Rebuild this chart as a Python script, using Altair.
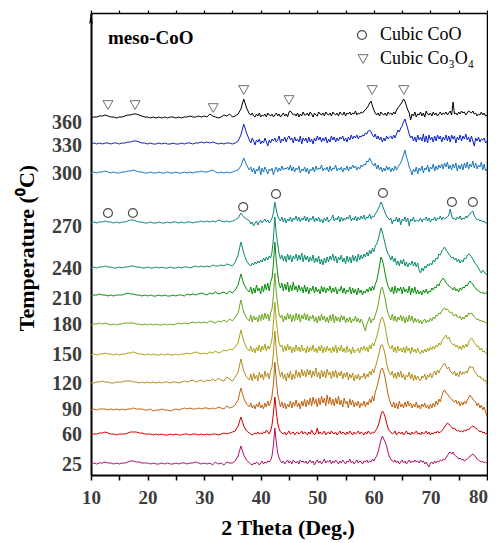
import altair as alt
import pandas as pd

# sampling grid of the diffractograms (2 theta, degrees):
# 0.5 deg steps up to 37.5, then 0.25 deg steps from 38 to 80
two_theta = [10 + 0.5 * i for i in range(56)] + [38 + 0.25 * i for i in range(169)]

temps = ["360", "330", "300", "270", "240", "210", "180", "150", "120", "90", "60", "25"]
baselines = [357, 331, 302, 252, 207, 179, 150, 120, 92, 65, 40, 11]
label_pos = [352, 329, 301, 248, 206, 176, 150, 120, 91, 65, 40, 10]
colors = ["#000000", "#0a1fc4", "#1877b8", "#0b8686", "#0a8a6e", "#0a8c0a",
          "#6aa61a", "#a8a414", "#b48c1c", "#c0620e", "#d40000", "#b0106a"]

# intensity above each curve's baseline
i360 = [0,1,1,2,2,3,2,1,1,0, 1,1,2,3,3,4,4,3,2,1,
        1,0,1,0,1,0,1,0,1,1, 0,1,0,1,1,2,1,1,2,1,
        2,1,4,2,1,0,1,3,2,4, 1,2,4,9,19,10,
        4,3,5,2,1,4,2,5,1,3, 2,4,1,5,3,2,4,1,3,5,
        2,4,1,3,5,2,4,1,6,7, 5,3,4,2,5,1,4,2,6,3,
        3,5,2,6,4,1,5,3,2,6, 4,3,5,2,6,4,3,5,2,6,
        4,3,5,2,6,4,3,6,2,5, 4,6,3,5,4,7,3,5,4,6,
        5,7,8,10,12,15,17,12,8,5, 3,5,2,6,4,3,5,2,6,4,
        5,3,6,4,8,10,12,14,16,19, 17,12,8,5,-2,4,2,6,1,4,
        3,6,2,5,1,7,4,3,5,2, 6,3,5,2,4,6,3,5,4,6,
        3,5,7,3,16,4,5,3,6,4, 7,5,6,3,5,7,6,5,7,4,
        5,2,4,3,6,3,5,2,3]
i330 = [0,1,0,1,0,1,1,0,1,1, 0,1,1,2,2,3,3,2,1,1,
        0,1,0,0,1,0,1,0,0,1, 0,0,1,0,1,1,0,1,1,2,
        1,2,1,2,1,0,1,0,1,1, 0,1,3,9,20,11,
        4,1,6,3,-1,4,2,5,0,3, 1,6,2,-2,4,1,5,3,6,2,
        4,8,1,5,3,7,2,6,8,4, 6,1,7,3,5,2,8,0,6,3,
        6,1,7,2,5,0,6,3,8,4, 7,2,6,3,7,1,5,2,8,4,
        7,2,6,3,7,5,8,3,6,2, 7,4,9,5,8,6,9,5,8,7,
        9,8,11,10,13,14,12,9,7,10, 5,8,4,7,2,6,3,8,5,7,
        8,5,9,6,10,14,12,16,18,22, 25,20,15,10,6,8,3,7,2,9,
        4,7,3,10,2,8,1,9,4,7, 2,8,3,9,5,8,2,7,4,9,
        3,8,2,9,5,8,1,7,4,9, 3,8,5,10,4,7,2,8,3,-2,
        6,3,7,2,5,4,6,1,3]
i300 = [0,1,0,1,1,2,1,0,1,0, 0,1,1,2,2,3,2,1,1,0,
        0,1,0,0,1,0,0,1,0,0, 1,0,0,1,0,1,0,1,1,2,
        1,1,2,3,1,0,1,0,1,0, 1,2,3,7,15,8,
        3,6,1,5,-1,4,2,7,-2,5, 1,6,3,-1,4,2,5,-2,3,6,
        1,5,2,7,3,5,4,6,3,8, 2,6,1,5,3,7,0,4,2,6,
        1,5,-1,4,2,6,1,7,3,5, 4,8,2,5,3,6,1,7,2,5,
        4,8,2,5,3,6,1,5,3,7, 2,6,4,8,5,7,3,6,4,8,
        6,9,8,12,11,15,12,9,7,10, 4,8,3,6,1,5,2,7,3,6,
        1,5,2,7,3,6,8,10,14,18, 23,16,12,6,3,-2,4,1,6,-1,
        5,2,7,0,5,3,8,1,6,4, 9,2,7,3,8,5,9,4,10,6,
        11,4,8,3,9,5,10,2,8,4, 9,3,10,5,11,4,9,6,12,5,
        10,4,8,6,11,3,9,2,4]
i270 = [0,1,0,1,1,2,1,1,0,1, 0,1,1,2,3,3,2,1,1,0,
        0,1,0,0,1,0,0,1,0,1, 1,0,1,0,1,1,0,1,1,2,
        1,2,1,2,1,3,2,1,2,1, 2,3,5,10,6,4,
        2,-1,1,-3,0,2,-2,1,3,0, 2,4,1,3,0,2,5,10,21,13,
        7,4,2,6,1,5,0,4,2,6, 1,5,3,7,2,6,1,5,3,7,
        2,6,1,5,3,7,1,5,2,6, 1,4,0,5,2,6,1,3,4,8,
        2,5,3,7,1,6,2,5,3,6, 4,8,2,5,3,7,2,6,3,7,
        4,8,3,6,5,9,4,7,6,9, 11,14,17,21,18,14,10,7,5,3,
        5,-1,3,2,6,1,5,-2,4,2, 6,1,5,-3,4,2,6,1,3,2,
        2,5,1,4,3,6,2,5,1,4, 3,6,2,5,4,7,3,6,4,5,
        6,8,14,7,4,5,3,6,4,7, 3,5,4,7,5,8,9,11,12,7,
        5,3,4,2,3,1,2,0,0]
i240 = [0,1,0,1,1,2,1,1,0,0, 1,0,1,1,2,2,1,1,0,0,
        1,0,0,1,0,1,0,0,1,0, 0,1,0,1,1,0,1,2,1,2,
        1,2,1,3,2,2,3,2,4,3, 2,6,13,26,15,7,
        3,2,5,3,6,4,7,5,8,6, 10,7,11,8,12,10,16,30,51,34,
        24,14,9,13,7,12,6,14,8,13, 6,12,9,14,7,13,8,15,6,13,
        8,12,6,11,7,13,5,10,6,12, 4,9,3,10,5,11,6,12,8,14,
        7,12,5,11,8,13,6,10,4,12, 6,11,5,13,7,12,6,14,8,13,
        9,14,11,16,12,18,14,20,16,22, 24,28,34,40,36,30,24,18,14,12,
        8,12,6,10,3,7,2,8,4,9, 2,6,1,5,3,7,2,6,1,5,
        -2,-5,0,-3,2,0,4,2,5,3, 8,6,10,9,14,13,17,19,21,18,
        16,14,12,10,11,8,10,6,9,5, 8,6,10,9,12,14,13,11,9,6,
        4,2,0,-3,-5,-2,-4,-6,-6]
i210 = [0,1,1,2,1,1,0,1,0,1, 1,1,2,3,2,2,1,1,0,1,
        0,1,0,0,1,0,1,0,0,1, 0,1,1,0,2,1,2,1,2,3,
        2,1,3,2,4,2,3,4,2,5, 3,6,11,22,12,7,
        4,9,2,8,3,11,5,8,2,10, 4,12,6,13,5,14,18,32,54,35,
        22,12,8,13,5,12,6,14,4,11, 5,14,6,10,4,11,5,9,3,11,
        4,9,2,8,5,10,3,9,4,7, 2,10,4,9,3,8,5,10,3,8,
        4,9,2,7,5,10,3,8,2,6, 4,9,2,8,3,7,1,8,3,6,
        1,5,3,7,4,9,5,10,6,12, 15,22,30,39,36,30,22,15,10,7,
        4,9,2,10,3,8,5,9,2,9, 4,7,3,10,1,8,3,9,2,6,
        2,5,1,6,3,7,2,5,4,8, 6,9,8,12,10,14,16,18,16,13,
        12,10,9,8,6,9,5,7,4,8, 6,9,8,11,10,13,15,13,12,9,
        8,6,5,4,3,4,2,3,3]
i180 = [0,1,1,2,1,2,1,0,1,0, 1,1,2,2,2,2,1,1,0,1,
        0,1,0,1,0,0,1,0,1,0, 1,2,1,2,1,2,3,2,3,2,
        3,2,4,3,2,4,3,5,3,6, 4,8,12,25,13,7,
        4,10,3,9,5,8,3,10,4,11, 5,12,6,11,4,12,16,30,52,33,
        20,11,7,10,3,9,5,12,6,11, 3,10,4,12,5,11,3,10,6,12,
        5,11,4,9,6,10,3,8,2,9, 4,11,5,9,3,8,2,10,4,11,
        2,9,4,8,3,10,5,9,2,7, 3,8,2,6,4,9,3,7,2,6,
        3,-2,-6,1,4,8,2,6,5,10, 14,20,28,36,38,32,26,18,12,8,
        5,11,4,9,3,8,5,10,4,9, 2,8,3,10,4,9,2,7,3,6,
        2,5,1,4,6,2,5,3,7,4, 8,6,10,9,12,11,14,16,17,15,
        16,14,12,13,10,9,11,8,7,9, 5,8,6,10,8,12,11,12,10,8,
        7,5,6,4,5,3,4,2,2]
i150 = [0,1,0,1,1,2,1,1,0,1, 0,1,1,2,2,3,2,1,1,0,
        1,0,1,0,0,1,0,1,0,0, 1,0,1,1,2,1,2,3,2,1,
        2,1,3,2,4,2,3,5,4,6, 5,8,12,25,14,7,
        4,9,3,7,2,8,4,10,3,9, 5,11,4,9,6,10,16,32,53,34,
        22,12,8,10,3,9,4,11,5,9, 2,8,3,10,4,8,3,10,4,7,
        2,9,3,8,4,10,3,7,2,9, 4,10,2,8,3,9,4,7,2,8,
        3,10,2,8,4,10,3,7,2,9, 3,6,1,8,2,5,4,7,2,8,
        5,9,4,8,3,10,6,12,9,14, 18,24,30,36,38,34,28,20,12,8,
        6,10,3,8,2,9,4,7,3,8, 2,9,4,7,1,8,3,6,2,7,
        3,1,5,2,6,3,7,4,8,5, 9,6,10,8,12,10,14,16,18,20,
        16,18,14,12,10,11,8,10,6,9, 5,10,7,11,8,13,15,17,15,12,
        11,8,9,5,7,3,4,2,1]
i120 = [0,0,1,1,2,1,1,0,0,1, 1,1,2,2,2,1,1,0,1,0,
        1,0,1,0,1,0,1,1,0,1, 1,0,1,2,1,2,3,1,2,3,
        1,3,2,4,2,5,3,2,6,4, 2,6,11,24,12,6,
        3,9,2,10,4,8,2,11,5,9, 3,12,6,10,4,12,16,30,52,34,
        20,12,6,11,4,9,2,10,5,12, 3,9,4,13,6,11,5,14,7,12,
        6,14,8,13,5,12,7,15,6,11, 4,13,6,12,5,14,8,11,4,12,
        6,13,5,11,7,12,4,10,6,11, 3,9,5,10,2,8,4,9,3,7,
        5,10,4,9,6,12,8,14,10,16, 20,26,32,38,38,34,28,20,14,10,
        8,12,5,10,4,11,6,12,5,9, 3,8,6,11,4,9,2,8,3,7,
        4,2,7,5,9,3,8,6,10,5, 9,12,8,13,10,14,16,18,20,17,
        14,16,12,10,9,12,7,10,6,12, 8,11,9,12,10,14,17,15,16,12,
        10,8,6,7,4,5,2,3,-2]
i90 = [0,1,0,1,1,1,0,1,0,1, 0,1,0,1,1,2,1,1,1,0,
       0,1,-1,0,0,1,0,0,-1,0, 1,0,1,2,1,2,1,1,2,1,
       2,2,1,2,1,3,2,1,4,2, 3,5,10,22,12,6,
       3,7,2,5,1,6,3,8,2,5, 1,7,3,9,4,8,14,26,48,30,
       16,9,3,8,2,7,1,6,3,9, 2,8,4,10,3,7,1,9,4,11,
       3,10,5,12,4,13,6,11,3,12, 5,14,7,12,4,15,6,13,5,11,
       4,12,6,14,5,10,3,12,6,9, 2,11,5,10,3,8,4,9,2,7,
       4,9,3,8,5,11,7,14,9,18, 22,28,34,40,42,38,32,24,16,10,
       6,3,8,2,7,1,9,3,6,2, 8,3,9,4,7,2,6,3,8,2,
       5,1,6,3,7,2,5,1,6,2, 7,3,9,5,11,8,14,18,20,17,
       16,14,12,11,9,8,10,6,9,4, 8,5,9,6,10,12,15,13,11,9,
       8,4,7,2,5,0,3,-2,-6]
i60 = [0,1,1,2,2,3,2,1,1,0, 1,1,1,2,3,3,3,2,2,1,
       1,1,0,1,0,1,0,0,1,0, 1,0,0,1,1,0,1,1,0,1,
       0,1,0,1,1,0,1,2,1,2, 3,4,9,18,9,4,
       2,1,0,1,2,1,3,1,2,1, 3,2,5,3,1,4,10,22,38,24,
       12,6,3,2,1,3,0,2,4,1, 2,3,0,2,3,1,2,4,1,3,
       2,0,3,1,5,2,0,2,7,1, 3,1,2,4,0,2,3,1,4,2,
       1,3,0,2,4,1,3,2,0,3, 1,4,2,0,3,1,2,4,1,3,
       2,0,3,1,4,2,1,3,2,4, 6,9,14,20,24,22,18,12,7,4,
       3,1,2,4,0,2,3,1,3,0, 2,4,1,2,0,3,1,2,4,1,
       2,0,3,1,2,4,1,3,0,2, 1,3,2,4,2,3,4,6,8,10,
       12,11,9,8,6,7,5,4,5,3, 4,3,5,4,6,5,7,8,9,8,
       7,6,5,3,4,2,3,1,2]
i25 = [0,1,0,1,1,2,1,1,0,1, 0,1,1,2,3,3,2,2,1,1,
       1,0,1,0,0,1,0,1,0,0, 1,0,1,1,0,1,1,2,1,0,
       1,0,1,-1,2,0,1,-1,2,1, 1,3,8,18,9,4,
       1,0,-1,1,0,2,1,-1,1,3, 0,2,1,3,2,4,8,19,36,22,
       11,6,3,1,3,0,2,4,1,3, 0,4,2,1,3,0,4,2,3,1,
       3,0,2,4,1,3,-1,2,4,1, 3,0,2,5,1,3,2,4,0,3,
       1,4,2,0,3,1,4,2,0,3, 2,5,1,3,0,2,4,1,3,2,
       0,3,2,4,1,3,2,5,3,6, 8,12,18,24,28,25,22,18,12,7,
       5,3,2,4,1,3,0,2,4,1, 3,0,2,4,1,3,2,4,2,3,
       1,4,2,3,0,2,-1,-3,1,2, 0,3,1,3,2,4,3,5,4,6,
       8,11,12,10,12,9,8,7,5,6, 4,5,3,4,5,6,8,9,10,9,
       7,5,4,3,2,3,1,2,1]
profiles = [i360, i330, i300, i270, i240, i210, i180, i150, i120, i90, i60, i25]

# phase markers
coo_x = [13.0, 17.4, 36.9, 42.7, 61.6, 73.8, 77.5]
coo_y = [262, 262, 268, 281, 282, 273, 273]
co3o4_x = [13.0, 17.8, 31.6, 37.0, 45.0, 59.7, 65.3]
co3o4_y = [370, 370, 367, 385, 375, 385, 385]

x_ticks = [10, 15, 20, 25, 30, 35, 40, 45, 50, 55, 60, 65, 70, 75, 80]
right_ticks = [0, 41.5, 83, 124.5, 166, 207.5, 249, 290.5, 332, 373.5, 415]

legend_labels = ["Cubic CoO", "Cubic Co\u2083O\u2084"]
legend_x = [57.9, 58.1]
legend_y = [440, 416]
legend_text_x = [61.1, 61.1]

rows = []
for t, b, prof in zip(temps, baselines, profiles):
    n = min(len(prof), len(two_theta))
    for x, v in zip(two_theta[:n], prof[:n]):
        rows.append({"t": t, "x": x, "y": b + v})
curve_df = pd.DataFrame(rows)

xs = alt.Scale(domain=[10, 80], nice=False, zero=False)
ys = alt.Scale(domain=[0, 462], nice=False, zero=False)
SERIF = "Liberation Serif"

lines = alt.Chart(curve_df).mark_line(strokeWidth=1.0).encode(
    x=alt.X("x:Q", scale=xs, axis=alt.Axis(
        orient="bottom", values=x_ticks,
        labelExpr="(datum.value % 10 === 0 && datum.value < 80) ? datum.label : ''",
        tickSize=5, tickWidth=1.5, tickColor="black",
        domainColor="black", domainWidth=2, grid=False, title=None,
        labelFont=SERIF, labelFontSize=19, labelFontWeight="bold",
        labelColor="#3c3c3c", labelPadding=8, labelFlush=False)),
    y=alt.Y("y:Q", scale=ys, axis=alt.Axis(
        orient="left", ticks=False, labels=False, domainColor="black",
        domainWidth=2, grid=False, title=None)),
    color=alt.Color("t:N", scale=alt.Scale(domain=temps, range=colors), legend=None),
)

# last x tick label, kept inside the page edge
last_df = pd.DataFrame({"x": [80], "s": ["80"]})
last_label = alt.Chart(last_df).mark_text(
    align="right", baseline="top", dx=1, font=SERIF, fontSize=19,
    fontWeight="bold", color="#3c3c3c"
).encode(x=alt.X("x:Q", scale=xs, axis=None), y=alt.value(475), text="s:N")

coo_df = pd.DataFrame({"x": coo_x, "y": coo_y})
circles = alt.Chart(coo_df).mark_point(
    shape="circle", filled=False, color="black", size=80, strokeWidth=1.2
).encode(
    x=alt.X("x:Q", scale=xs, axis=alt.Axis(
        orient="top", values=x_ticks, labels=False, tickSize=3, tickWidth=1.2,
        tickColor="black", domainColor="black", domainWidth=1.5, grid=False, title=None)),
    y=alt.Y("y:Q", scale=ys, axis=alt.Axis(
        orient="right", values=right_ticks, labels=False, tickSize=3, tickWidth=1.2,
        tickColor="black", domainColor="black", domainWidth=1.5, grid=False, title=None)),
)

co3o4_df = pd.DataFrame({"x": co3o4_x, "y": co3o4_y})
triangles = alt.Chart(co3o4_df).mark_point(
    shape="triangle-down", filled=False, color="#333333", size=100, strokeWidth=1
).encode(
    x=alt.X("x:Q", scale=xs, axis=None),
    y=alt.Y("y:Q", scale=ys, axis=None),
)

lab_df = pd.DataFrame({"t": temps, "y": label_pos})
temp_labels = alt.Chart(lab_df).mark_text(
    align="right", baseline="middle", font=SERIF, fontSize=20,
    fontWeight="bold", color="#3c3c3c"
).encode(
    x=alt.value(-9),
    y=alt.Y("y:Q", scale=ys, axis=None),
    text="t:N",
)

title_df = pd.DataFrame({"x": [13.0], "y": [437], "s": ["meso-CoO"]})
title = alt.Chart(title_df).mark_text(
    align="left", baseline="middle", font=SERIF, fontSize=19,
    fontWeight="bold", color="black"
).encode(
    x=alt.X("x:Q", scale=xs, axis=None),
    y=alt.Y("y:Q", scale=ys, axis=None),
    text="s:N",
)

leg_sym_df = pd.DataFrame({"x": legend_x[:1], "y": legend_y[:1]})
leg_circle = alt.Chart(leg_sym_df).mark_point(
    shape="circle", filled=False, color="black", size=80, strokeWidth=1.2
).encode(x=alt.X("x:Q", scale=xs, axis=None), y=alt.Y("y:Q", scale=ys, axis=None))

leg_tri_df = pd.DataFrame({"x": legend_x[1:], "y": legend_y[1:]})
leg_tri = alt.Chart(leg_tri_df).mark_point(
    shape="triangle-down", filled=False, color="#333333", size=100, strokeWidth=1
).encode(x=alt.X("x:Q", scale=xs, axis=None), y=alt.Y("y:Q", scale=ys, axis=None))

leg_txt_df = pd.DataFrame({"x": legend_text_x, "y": legend_y, "s": legend_labels})
leg_text = alt.Chart(leg_txt_df).mark_text(
    align="left", baseline="middle", font=SERIF, fontSize=18, color="black"
).encode(
    x=alt.X("x:Q", scale=xs, axis=None),
    y=alt.Y("y:Q", scale=ys, axis=None),
    text="s:N",
)

arrow_df = pd.DataFrame({"x": [10], "y": [457]})
arrow = alt.Chart(arrow_df).mark_point(
    shape="M0,-1L0.3,1L0,0.7L-0.3,1Z", filled=True, color="black",
    size=144, opacity=1
).encode(x=alt.X("x:Q", scale=xs, axis=None), y=alt.Y("y:Q", scale=ys, axis=None))

xt_df = pd.DataFrame({"s": ["2 Theta (Deg.)"]})
x_title = alt.Chart(xt_df).mark_text(
    align="center", baseline="alphabetic", font=SERIF, fontSize=22,
    fontWeight="bold", color="black"
).encode(x=alt.value(197), y=alt.value(522), text="s:N")

yt_df = pd.DataFrame({"s": ["Temperature (\u2070C)"]})
y_title = alt.Chart(yt_df).mark_text(
    align="center", baseline="middle", font=SERIF, fontSize=22,
    fontWeight="bold", color="black", angle=270
).encode(x=alt.value(-64), y=alt.value(235), text="s:N")

chart = alt.layer(
    lines, circles, triangles, temp_labels, title, leg_circle, leg_tri,
    leg_text, arrow, x_title, y_title, last_label
).resolve_axis(x="independent", y="independent").properties(
    width=396, height=462,
    autosize=alt.AutoSizeParams(type="none"),
    padding={"left": 83, "top": 5, "right": 1, "bottom": 66},
).configure_view(stroke=None)

chart.save("out.html", embed_options={"renderer": "svg", "actions": False})
